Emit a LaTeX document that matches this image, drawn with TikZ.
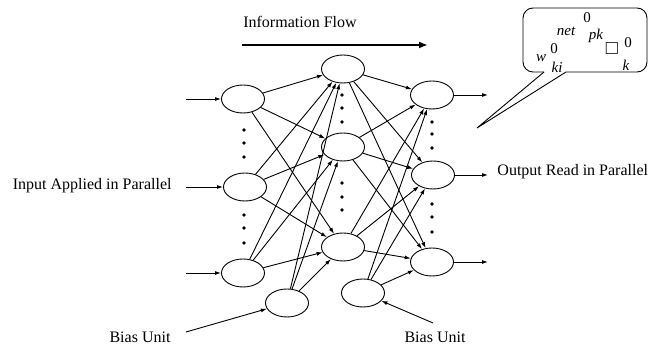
\documentclass[tikz,border=0pt]{standalone}
\usepackage{fontspec}
\setmainfont{Liberation Serif}
\usetikzlibrary{shapes.geometric,arrows.meta}

\begin{document}
\begin{tikzpicture}[x=1pt,y=-1pt,line width=0.9pt,
  unit/.style={draw,ellipse,minimum width=43pt,minimum height=28pt,inner sep=0pt},
  wire/.style={-{Latex[length=6pt,width=4pt]}},
  lab/.style={font=\fontsize{16}{18}\selectfont},
  eq/.style={inner sep=0pt,font=\fontsize{15}{17}\selectfont\itshape}]
\useasboundingbox (0,0) rectangle (664,347);

% input layer
\node[unit] (i1) at (243,99) {};
\node[unit] (i2) at (245,187) {};
\node[unit] (i3) at (243,273) {};
% hidden layer
\node[unit] (h1) at (343,69) {};
\node[unit] (h2) at (343,147) {};
\node[unit] (h3) at (343,247) {};
% output layer
\node[unit] (o1) at (432,95) {};
\node[unit] (o2) at (433,175) {};
\node[unit] (o3) at (432,262) {};
% bias units
\node[unit] (b1) at (287,303) {};
\node[unit] (b2) at (363,293) {};

% dots
\foreach \y in {130,143,157,215,228,243} \fill (244,\y) circle (1.9);
\foreach \y in {95,108,122,183,197,210} \fill (342,\y) circle (1.9);
\foreach \y in {122,134,148,204,217,232} \fill (432,\y) circle (1.9);

% weights
\foreach \a in {i1,i2,i3,b1}
  \foreach \b in {h1,h2,h3}
    \draw[wire] (\a) -- (\b);
\foreach \a in {h1,h2,h3,b2}
  \foreach \b in {o1,o2,o3}
    \draw[wire] (\a) -- (\b);

% inputs and outputs
\foreach \n/\y in {1/99,2/187,3/273} {
  \coordinate (in\n) at (186,\y);
  \draw[wire] (in\n) -- (i\n);
}
\foreach \n/\y in {1/95,2/175,3/262} {
  \coordinate (out\n) at (488,\y);
  \draw[wire] (o\n) -- (out\n);
}

% labels
\node[lab] (flow) at (300,22) {Information Flow};
\coordinate (fs) at (242,45);
\coordinate (fe) at (428,45);
\draw[line width=2.6pt,-{Latex[length=9pt,width=7pt]}] (fs) -- (fe);
\node[lab,anchor=east,inner sep=0pt] (inlab) at (172,186) {Input Applied in Parallel};
\node[lab,anchor=west,inner sep=0pt] (outlab) at (497,172) {Output Read in Parallel};
\node[lab] (bl1) at (140,337) {Bias Unit};
\node[lab] (bl2) at (435,337) {Bias Unit};
\coordinate (bt1) at (186,332);
\coordinate (bt2) at (433,323);
\draw[wire] (bt1) -- (b1);
\draw[wire] (bt2) -- (b2);

% callout
\coordinate (tip) at (477,128);
\draw[rounded corners=10pt] (544,72) -- (523,72) -- (523,8) -- (647,8) -- (647,72) -- (566,72);
\draw (544,72) -- (tip) -- (566,72);
\node[eq] (net) at (566,31) {net};
\node[eq] (net0) at (587,18) {\upshape 0};
\node[eq] (pk) at (596,36) {pk};
\node[eq,font=\fontsize{20}{22}\selectfont] (sq) at (612,49) {□};
\node[eq] (k0) at (628,43) {\upshape 0};
\node[eq] (k) at (626,65) {k};
\node[eq] (w) at (541,58) {w};
\node[eq] (w0) at (554,49) {\upshape 0};
\node[eq] (ki) at (557,67) {ki};
\end{tikzpicture}
\end{document}
